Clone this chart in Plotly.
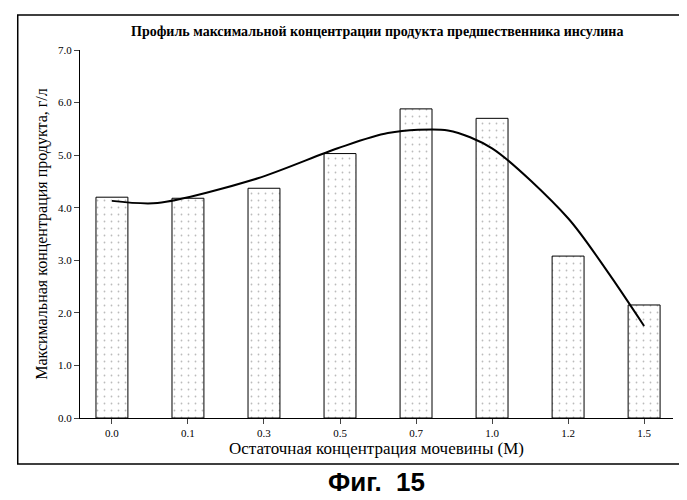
import plotly.graph_objects as go

cats = ["0.0", "0.1", "0.3", "0.5", "0.7", "1.0", "1.2", "1.5"]
bar_vals = [4.2, 4.18, 4.37, 5.03, 5.88, 5.7, 3.08, 2.15]
curve_x = [0, 0.6, 1.92, 2.97, 3.63, 4.42, 5.0, 6.0, 6.53, 7.0]
curve_y = [4.13, 4.09, 4.56, 5.13, 5.42, 5.47, 5.13, 3.8, 2.76, 1.75]
yticks = [0, 1, 2, 3, 4, 5, 6, 7]

font = "Liberation Serif"
fig = go.Figure()
fig.add_bar(x=list(range(len(cats))), y=bar_vals, width=0.42,
            marker=dict(color="white", line=dict(color="black", width=1),
                        pattern=dict(shape=".", fgcolor="#777", size=7, solidity=0.05)))
fig.add_scatter(x=curve_x, y=curve_y, mode="lines", line=dict(color="black", width=2, shape="spline", smoothing=0.8))
fig.add_shape(type="rect", xref="paper", yref="paper", x0=-0.105, x1=1.022, y0=-0.125, y1=1.095,
              line=dict(color="black", width=1.5), layer="above")
fig.update_layout(
    width=687, height=500, showlegend=False, plot_bgcolor="white", paper_bgcolor="white",
    margin=dict(l=72, r=22, t=42, b=90), font=dict(family=font, color="black"),
    annotations=[
        dict(text="<b>Профиль максимальной концентрации продукта предшественника инсулина</b>",
             x=0.5, y=1.075, xref="paper", yref="paper", showarrow=False, font=dict(size=14)),
        dict(text="<b>Фиг.  15</b>", x=0.5, xref="paper", y=-0.175, yref="paper",
             showarrow=False, font=dict(size=26, family="Liberation Sans"), yanchor="middle"),
    ],
)
fig.update_xaxes(range=[-0.42, 7.38], tickvals=list(range(len(cats))), ticktext=cats,
                 showline=True, linecolor="black", ticks="outside", tickfont=dict(size=11, family=font),
                 title=dict(text="Остаточная концентрация мочевины (М)", font=dict(size=17), standoff=2))
fig.update_yaxes(range=[0, 7], tickvals=yticks, tickformat=".1f", showline=True, linecolor="black",
                 ticks="outside", showgrid=False, tickfont=dict(size=11, family=font),
                 title=dict(text="Максимальная концентрация продукта, г/л", font=dict(size=16), standoff=6))
fig.write_html("out.html")
